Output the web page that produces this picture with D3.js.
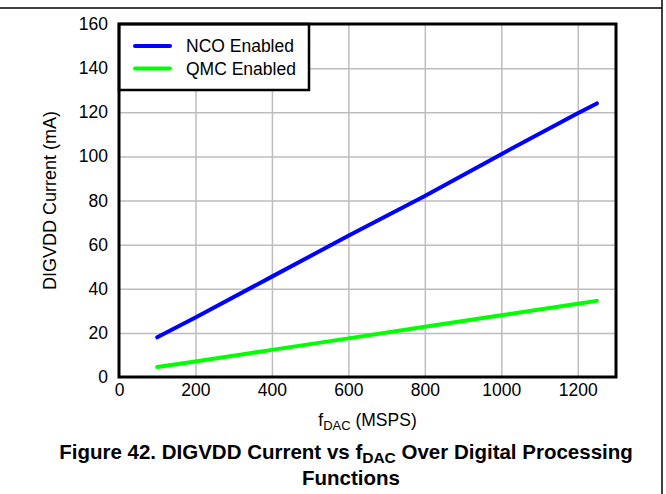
<!DOCTYPE html>
<meta charset="utf-8">
<head>
<style>
  body { margin: 0; background: #fff; }
  svg { display: block; font-family: "Liberation Sans", Arial, sans-serif; }
  .tick text { font-size: 17.5px; fill: #000; font-family: "Liberation Sans", Arial, sans-serif; }
  .grid line { stroke: #bdbdbd; stroke-width: 1.5; }
  .grid .domain { display: none; }
  .legend text { font-size: 17.5px; }
  .caption { font-size: 20.5px; font-weight: bold; text-anchor: middle; }
</style>
<script src="https://d3js.org/d3.v7.min.js"></script>
</head>
<body>
<svg width="666" height="494"></svg>
<script>
// data
var freqs = [100, 200, 400, 600, 800, 1000, 1200, 1250];
var ncoCurrent = [18, 27, 45.5, 64, 82, 101, 119.5, 124];
var qmcCurrent = [4.5, 7, 12.3, 17.5, 22.8, 28, 33.2, 34.5];
var seriesNames = ["NCO Enabled", "QMC Enabled"];
var seriesColors = ["#0000ff", "#00ff00"];
var xTicks = [0, 200, 400, 600, 800, 1000, 1200];
var yTicks = [0, 20, 40, 60, 80, 100, 120, 140, 160];

var svg = d3.select("svg");
var margin = {left: 119, top: 24, right: 50, bottom: 117};
var width = 666 - margin.left - margin.right,
    height = 494 - margin.top - margin.bottom;

// page frame lines
svg.append("line").attr("x1", 0).attr("x2", 662).attr("y1", 8).attr("y2", 8)
    .attr("stroke", "#000").attr("stroke-width", 1.5);
svg.append("line").attr("x1", 662).attr("x2", 662).attr("y1", 0).attr("y2", 494)
    .attr("stroke", "#000").attr("stroke-width", 1.5);

var x = d3.scaleLinear().domain([0, 1300]).range([0, width]);
var y = d3.scaleLinear().domain([0, 160]).range([height, 0]);

var g = svg.append("g").attr("transform", "translate(" + margin.left + "," + margin.top + ")");

// grid
g.append("g").attr("class", "grid")
    .attr("transform", "translate(0," + height + ")")
    .call(d3.axisBottom(x).tickValues(xTicks.slice(1)).tickSize(-height).tickFormat(""));
g.append("g").attr("class", "grid")
    .call(d3.axisLeft(y).tickValues(yTicks.slice(1, -1)).tickSize(-width).tickFormat(""));

// axes labels
var xAxis = g.append("g")
    .attr("transform", "translate(0," + height + ")")
    .call(d3.axisBottom(x).tickValues(xTicks).tickSize(0).tickPadding(7).tickFormat(d3.format("d")));
xAxis.select(".domain").remove();
var yAxis = g.append("g")
    .call(d3.axisLeft(y).tickValues(yTicks).tickSize(0).tickPadding(11).tickFormat(d3.format("d")));
yAxis.select(".domain").remove();

// lines
var line = d3.line()
    .x(function(d) { return x(d[0]); })
    .y(function(d) { return y(d[1]); });
[ncoCurrent, qmcCurrent].forEach(function(vals, i) {
  g.append("path")
    .datum(freqs.map(function(f, j) { return [f, vals[j]]; }))
    .attr("fill", "none")
    .attr("stroke", seriesColors[i])
    .attr("stroke-width", 4)
    .attr("stroke-linecap", "round")
    .attr("d", line);
});

// legend
var leg = g.append("g").attr("class", "legend");
leg.append("rect").attr("x", 0).attr("y", 0).attr("width", 190).attr("height", 66)
    .attr("fill", "#fff").attr("stroke", "#000").attr("stroke-width", 2.5);
seriesNames.forEach(function(name, i) {
  var ly = 22 + i * 22.5;
  leg.append("line").attr("x1", 16).attr("x2", 51).attr("y1", ly).attr("y2", ly)
    .attr("stroke", seriesColors[i]).attr("stroke-width", 4).attr("stroke-linecap", "round");
  leg.append("text").attr("x", 67).attr("y", ly + 6).text(name);
});

// frame
g.append("rect").attr("width", width).attr("height", height)
    .attr("fill", "none").attr("stroke", "#000").attr("stroke-width", 3);

// axis titles
var xt = svg.append("text").attr("x", margin.left + width / 2).attr("y", 426)
    .attr("text-anchor", "middle").attr("font-size", 17.5);
xt.append("tspan").text("f");
xt.append("tspan").attr("font-size", 13).attr("dy", 4).text("DAC");
xt.append("tspan").attr("dy", -4).text(" (MSPS)");

svg.append("text")
    .attr("transform", "translate(56," + (margin.top + height / 2) + ") rotate(-90)")
    .attr("text-anchor", "middle").attr("font-size", 18)
    .text("DIGVDD Current (mA)");

// caption
var c1 = svg.append("text").attr("class", "caption").attr("x", 346).attr("y", 459);
c1.append("tspan").text("Figure 42. DIGVDD Current vs f");
c1.append("tspan").attr("font-size", 15.5).attr("dy", 4).text("DAC");
c1.append("tspan").attr("dy", -4).text(" Over Digital Processing");
svg.append("text").attr("class", "caption").attr("x", 351).attr("y", 485).text("Functions");
</script>
</body>
